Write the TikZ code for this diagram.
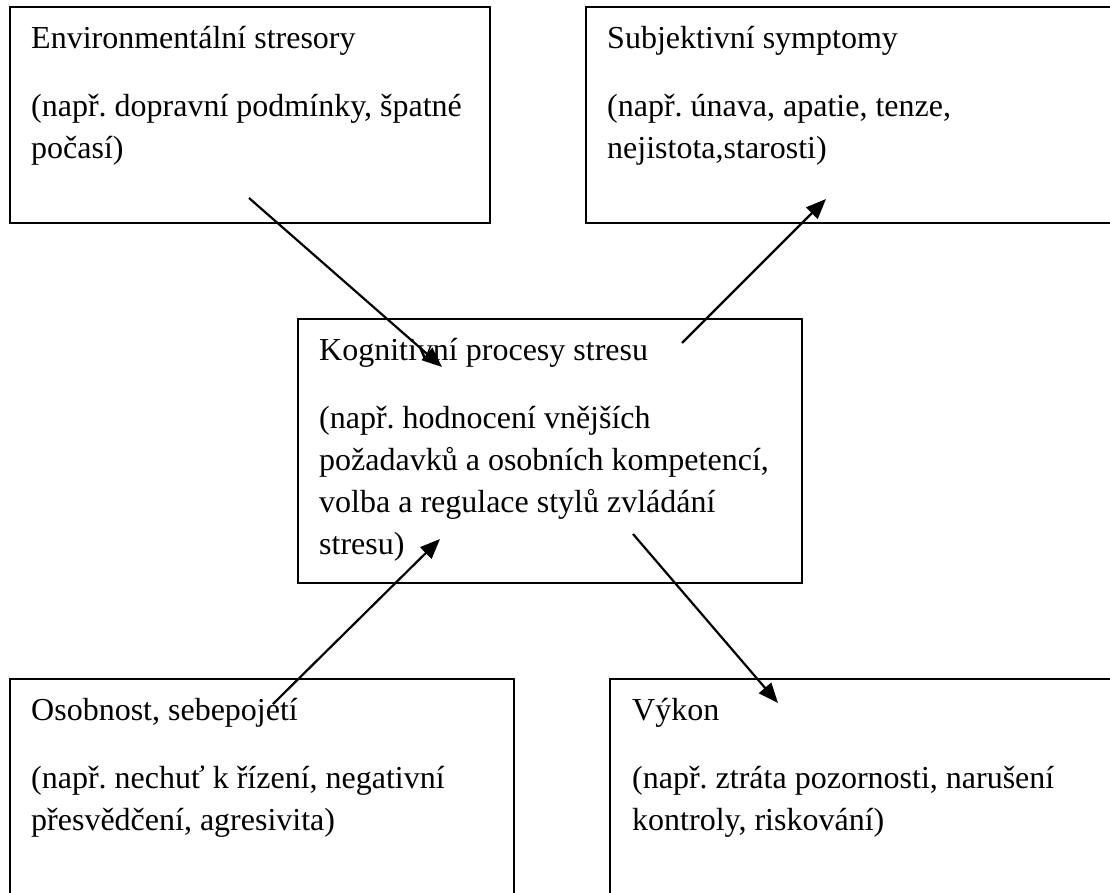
\documentclass[tikz,border=0pt]{standalone}
\usepackage{fontspec}
\setmainfont{Liberation Serif}
\usetikzlibrary{arrows.meta}
\begin{document}
\frenchspacing
\begin{tikzpicture}[x=1pt,y=-1pt,
  boxstyle/.style={draw, line width=2pt, inner sep=0pt, outer sep=0pt, anchor=north west},
  txt/.style={anchor=base west, align=left, inner sep=0pt, font=\fontsize{32pt}{42pt}\selectfont\frenchspacing},
  conn/.style={line width=2.2pt, -{Triangle[length=20pt,width=16pt]}}]
\useasboundingbox (0,0) rectangle (1110,892);
\fill[white] (0,0) rectangle (1110,892);
\clip (0,0) rectangle (1110,892);
% boxes
\node[boxstyle, minimum width=480pt, minimum height=216pt] (env) at (10,7) {};
\node[boxstyle, minimum width=560pt, minimum height=216pt] (subj) at (586,7) {};
\node[boxstyle, minimum width=504pt, minimum height=264pt] (kog) at (298,319) {};
\node[boxstyle, minimum width=504pt, minimum height=260pt] (osob) at (10,679) {};
\node[boxstyle, minimum width=540pt, minimum height=260pt] (vykon) at (610,679) {};
% texts (anchor = baseline of the last line)
\node[txt] (envt) at (31,158) {Environmentální stresory\\[26pt](např. dopravní podmínky, špatné\\počasí)};
\node[txt] (subjt) at (607,158) {Subjektivní symptomy\\[26pt](např. únava, apatie, tenze,\\nejistota,starosti)};
\node[txt] (kogt) at (319,554) {Kognitivní procesy stresu\\[26pt](např. hodnocení vnějších\\požadavků a osobních kompetencí,\\volba a regulace stylů zvládání\\stresu)};
\node[txt] (osobt) at (31,830) {Osobnost, sebepojetí\\[26pt](např. nechuť k řízení, negativní\\přesvědčení, agresivita)};
\node[txt] (vykont) at (632,830) {Výkon\\[26pt](např. ztráta pozornosti, narušení\\kontroly, riskování)};
% connector ends
\coordinate (a1s) at (249,198);
\coordinate (a1e) at (442,367);
\coordinate (a2s) at (682,343);
\coordinate (a2e) at (826,199);
\coordinate (a3s) at (273,704);
\coordinate (a3e) at (440,539);
\coordinate (a4s) at (633,534);
\coordinate (a4e) at (778,703);
\draw[conn] (a1s) -- (a1e);
\draw[conn] (a2s) -- (a2e);
\draw[conn] (a3s) -- (a3e);
\draw[conn] (a4s) -- (a4e);
\end{tikzpicture}
\end{document}
